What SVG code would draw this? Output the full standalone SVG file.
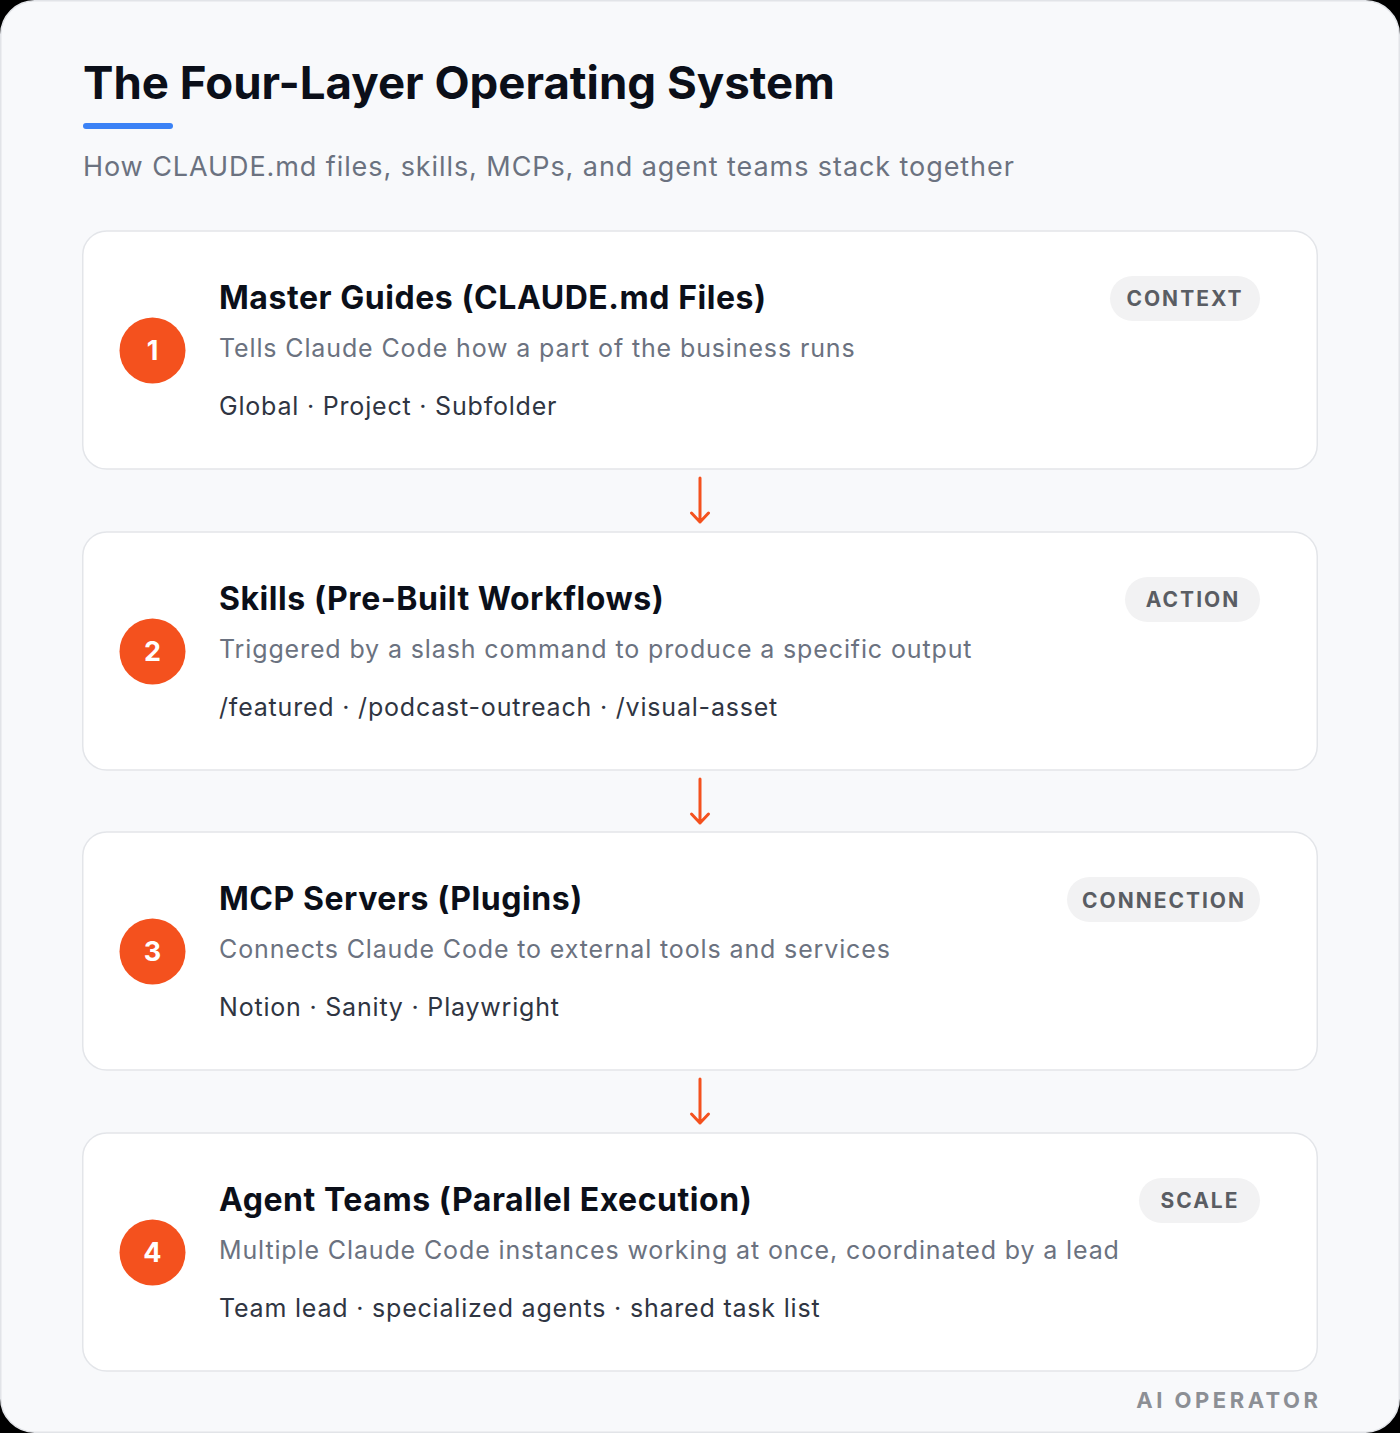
<svg xmlns="http://www.w3.org/2000/svg" width="1400" height="1433" viewBox="0 0 1400 1433">
<style>
.card{fill:#ffffff;stroke:#e3e5e9;stroke-width:1.5}
.num{fill:#f4511e}
.numt{font-family:Inter,"Liberation Sans",sans-serif;font-weight:700;font-size:27px;fill:#ffffff;text-anchor:middle}
.ttl{font-family:Inter,"Liberation Sans",sans-serif;font-weight:700;font-size:32px;fill:#0b0f19;letter-spacing:0.55px}
.desc{font-family:Inter,"Liberation Sans",sans-serif;font-size:25px;fill:#6b7280;letter-spacing:0.87px}
.tags{font-family:Inter,"Liberation Sans",sans-serif;font-size:25px;fill:#2f3542;letter-spacing:0.8px}
.pill{fill:#f2f2f3}
.pillt{font-family:Inter,"Liberation Sans",sans-serif;font-weight:700;font-size:21px;fill:#5a5d63;text-anchor:middle;letter-spacing:2px}
.conn{stroke:#f4511e;stroke-width:3;fill:none;stroke-linecap:round;stroke-linejoin:round}
</style>
<rect x="0" y="0" width="1400" height="1433" fill="#000000"/>
<rect x="0.75" y="0.75" width="1398.5" height="1431.5" rx="34" fill="#f8f9fb" stroke="#e2e4e8" stroke-width="1.5"/>
<text x="83" y="99" font-family="Inter,'Liberation Sans',sans-serif" font-weight="700" font-size="45.6" fill="#0b0f19">The Four-Layer Operating System</text>
<rect x="83" y="123" width="90" height="6" rx="3" fill="#3b82f6"/>
<text x="83" y="176" font-family="Inter,'Liberation Sans',sans-serif" font-size="27" fill="#6b7280" letter-spacing="0.92">How CLAUDE.md files, skills, MCPs, and agent teams stack together</text>

<g id="node1">
<rect class="card" x="82.75" y="231" width="1234.5" height="238" rx="24"/>
<circle class="num" cx="152.5" cy="350.5" r="33"/>
<text class="numt" x="152.5" y="360">1</text>
<text class="ttl" x="219" y="309">Master Guides (CLAUDE.md Files)</text>
<text class="desc" x="219" y="357">Tells Claude Code how a part of the business runs</text>
<text class="tags" x="219" y="415">Global · Project · Subfolder</text>
<rect class="pill" x="1110" y="276" width="150" height="45" rx="22.5"/>
<text class="pillt" x="1185" y="306">CONTEXT</text>
</g>

<g id="node2">
<rect class="card" x="82.75" y="532" width="1234.5" height="238" rx="24"/>
<circle class="num" cx="152.5" cy="651.5" r="33"/>
<text class="numt" x="152.5" y="661">2</text>
<text class="ttl" x="219" y="610">Skills (Pre-Built Workflows)</text>
<text class="desc" x="219" y="658">Triggered by a slash command to produce a specific output</text>
<text class="tags" x="219" y="716">/featured · /podcast-outreach · /visual-asset</text>
<rect class="pill" x="1125" y="577" width="135" height="45" rx="22.5"/>
<text class="pillt" x="1193" y="607">ACTION</text>
</g>

<g id="node3">
<rect class="card" x="82.75" y="832" width="1234.5" height="238" rx="24"/>
<circle class="num" cx="152.5" cy="951.5" r="33"/>
<text class="numt" x="152.5" y="961">3</text>
<text class="ttl" x="219" y="910">MCP Servers (Plugins)</text>
<text class="desc" x="219" y="958">Connects Claude Code to external tools and services</text>
<text class="tags" x="219" y="1016">Notion · Sanity · Playwright</text>
<rect class="pill" x="1067" y="877" width="193" height="45" rx="22.5"/>
<text class="pillt" x="1164" y="908">CONNECTION</text>
</g>

<g id="node4">
<rect class="card" x="82.75" y="1133" width="1234.5" height="238" rx="24"/>
<circle class="num" cx="152.5" cy="1252.5" r="33"/>
<text class="numt" x="152.5" y="1262">4</text>
<text class="ttl" x="219" y="1211">Agent Teams (Parallel Execution)</text>
<text class="desc" x="219" y="1259">Multiple Claude Code instances working at once, coordinated by a lead</text>
<text class="tags" x="219" y="1317">Team lead · specialized agents · shared task list</text>
<rect class="pill" x="1139" y="1178" width="121" height="45" rx="22.5"/>
<text class="pillt" x="1200" y="1208">SCALE</text>
</g>

<g id="connectors">
<path class="conn" d="M700 478 V522 M691.5 513 L700 522 L708.5 513"/>
<path class="conn" d="M700 779 V823 M691.5 814 L700 823 L708.5 814"/>
<path class="conn" d="M700 1079 V1123 M691.5 1114 L700 1123 L708.5 1114"/>
</g>

<text x="1321.5" y="1408" text-anchor="end" font-family="Inter,'Liberation Sans',sans-serif" font-weight="700" font-size="22" fill="#8c8f95" letter-spacing="3.5">AI OPERATOR</text>
</svg>
